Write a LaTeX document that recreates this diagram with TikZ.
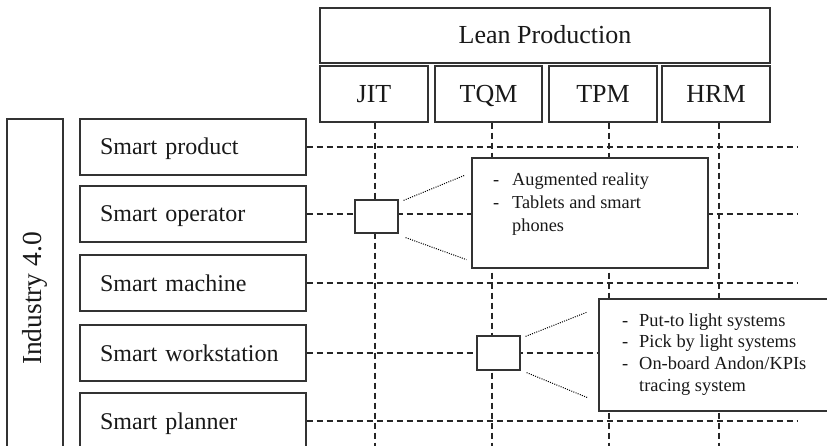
\documentclass[tikz,border=0pt]{standalone}
\usepackage{fontspec}
\setmainfont{Liberation Serif}
\usetikzlibrary{calc}
\begin{document}
\begin{tikzpicture}[x=1pt,y=-1pt,
  box/.style={draw=black!80, line width=1.2pt, fill=white, inner sep=0pt, text=black!90},
  headbox/.style={box, font=\fontsize{26}{30}\selectfont, text height=19pt, text depth=2.5pt},
  rowbox/.style={box, minimum height=56pt, text width=186pt, inner xsep=20pt, align=left, font=\fontsize{24}{28}\selectfont, text height=18pt, text depth=2pt},
  gridline/.style={draw=black!85, line width=1.05pt, dash pattern=on 6pt off 4pt},
  leader/.style={draw=black, line width=1pt, dash pattern=on 1pt off 1.3pt},
  calltext/.style={inner sep=0pt, anchor=base west, text=black!90}]
\useasboundingbox (0,0) rectangle (827,446);

% coordinates for grid ends
\coordinate (v1) at (375,446);
\coordinate (v2) at (492,446);
\coordinate (v3) at (609,446);
\coordinate (v4) at (719,446);
\coordinate (hend) at (797,0);

% header boxes
\node[headbox, minimum width=450pt, minimum height=55pt] (lean) at (545,35.5) {Lean Production};
\node[headbox, minimum width=108pt, minimum height=56pt] (jit) at (374,94) {JIT};
\node[headbox, minimum width=107pt, minimum height=56pt] (tqm) at (488.5,94) {TQM};
\node[headbox, minimum width=108pt, minimum height=56pt] (tpm) at (603,94) {TPM};
\node[headbox, minimum width=108pt, minimum height=56pt] (hrm) at (716,94) {HRM};

% left boxes
\node[box, minimum width=56pt, minimum height=359pt] (ind) at (35,298.5) {};
\node[rotate=90, font=\fontsize{27.5}{32}\selectfont, text=black!90] (indlabel) at (ind.center) {Industry 4.0};

\node[rowbox] (prod) at (193,147) {Smart product};
\node[rowbox] (oper) at (193,214) {Smart operator};
\node[rowbox] (mach) at (193,283) {Smart machine};
\node[rowbox] (work) at (193,353) {Smart workstation};
\node[rowbox] (plan) at (193,421) {Smart planner};

% grid lines
\draw[gridline] (jit.south -| v1) -- (v1);
\draw[gridline] (tqm.south -| v2) -- (v2);
\draw[gridline] (tpm.south -| v3) -- (v3);
\draw[gridline] (hrm.south -| v4) -- (v4);
\draw[gridline] (prod.east) -- (prod.east -| hend);
\draw[gridline] (oper.east) -- (oper.east -| hend);
\draw[gridline] (mach.east) -- (mach.east -| hend);
\draw[gridline] (work.east) -- (work.east -| hend);
\draw[gridline] (plan.east) -- (plan.east -| hend);

% small boxes and callouts
\node[box, minimum width=43pt, minimum height=33pt] (s1) at (376.5,216.5) {};
\node[box, minimum width=236pt, minimum height=110pt] (c1) at (590,213) {};
\node[box, minimum width=43pt, minimum height=34pt] (s2) at (498.5,353) {};
\node[box, minimum width=246pt, minimum height=112pt] (c2) at (722,355) {};

\draw[leader] ($(s1.north east)+(5,1)$) -- ($(c1.north west)+(-7,18)$);
\draw[leader] ($(s1.south east)+(7,4)$) -- ($(c1.south west)+(-5,-9)$);
\draw[leader] ($(s2.north east)+(5,1)$) -- ($(c2.north west)+(-12,14)$);
\draw[leader] ($(s2.south east)+(6,2)$) -- ($(c2.south west)+(-11,-14)$);

% callout texts
\node[calltext, font=\fontsize{18.3}{23}\selectfont] (t1) at (493,185.7)
  {\begin{tabular}[t]{@{}l@{\hspace{12.9pt}}l@{}}
   - & Augmented reality\\
   - & Tablets and smart\\
     & phones
   \end{tabular}};
\node[calltext, font=\fontsize{18.4}{21.7}\selectfont] (t2) at (622,326)
  {\begin{tabular}[t]{@{}l@{\hspace{10.9pt}}l@{}}
   - & Put-to light systems\\
   - & Pick by light systems\\
   - & On-board Andon/KPIs\\
     & tracing system
   \end{tabular}};
\end{tikzpicture}
\end{document}
